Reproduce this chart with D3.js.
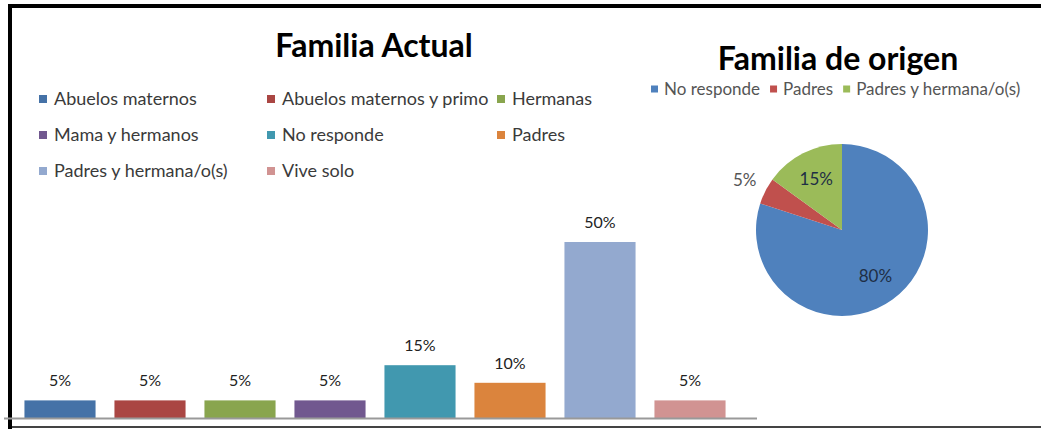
<!DOCTYPE html>
<html>
<head>
<meta charset="utf-8">
<script src="https://cdn.jsdelivr.net/npm/d3@7"></script>
<style>
  body { margin: 0; background: #fff; }
  svg { display: block; font-family: Lato, "Open Sans", sans-serif; }
</style>
</head>
<body>
<svg></svg>
<script>
const svgWidth = 1041;
const svgHeight = 429;

// Familia Actual (bar chart)
const barCategories = ["Abuelos maternos", "Abuelos maternos y primo", "Hermanas", "Mama y hermanos",
                       "No responde", "Padres", "Padres y hermana/o(s)", "Vive solo"];
const barValues = [0.05, 0.05, 0.05, 0.05, 0.15, 0.10, 0.50, 0.05];
const barColors = ["#4572A7", "#AA4643", "#89A54E", "#71588F", "#4198AF", "#DB843D", "#93A9CF", "#D19392"];

// Familia de origen (pie)
const pieCategories = ["No responde", "Padres", "Padres y hermana/o(s)"];
const pieValues = [0.80, 0.05, 0.15];
const pieColors = ["#4F81BD", "#C0504D", "#9BBB59"];

const pct = d3.format(".0%");

const svg = d3.select("svg")
        .attr("width", svgWidth)
        .attr("height", svgHeight);

// frame
svg.append("rect").attr("x", 8).attr("y", 4).attr("width", svgWidth - 8).attr("height", 4).attr("fill", "#000");
svg.append("rect").attr("x", 8).attr("y", 4).attr("width", 4).attr("height", svgHeight - 4).attr("fill", "#000");
svg.append("rect").attr("x", 12).attr("y", 426).attr("width", svgWidth - 12).attr("height", 2).attr("fill", "#444");

// ---------- bar chart ----------
const xScale = d3.scaleBand()
        .domain(barCategories)
        .range([15, 735])
        .paddingInner(0.21)
        .paddingOuter(0.105);
const yScale = d3.scaleLinear()
        .domain([0, 0.5])
        .range([418, 242]);

svg.append("text")
    .text("Familia Actual")
    .attr("x", 374)
    .attr("y", 57)
    .attr("font-size", "32px")
    .attr("font-weight", "bold")
    .attr("fill", "#000")
    .attr("text-anchor", "middle");

// legend, three columns
const legendCols = [39, 267, 497];
const legend = svg.append("g")
    .selectAll("g")
    .data(barCategories)
    .enter()
    .append("g")
    .attr("transform", (d, i) => `translate(${legendCols[i % 3]}, ${99 + Math.floor(i / 3) * 36})`);
legend.append("rect")
    .attr("x", 0).attr("y", -4)
    .attr("width", 8).attr("height", 8)
    .attr("fill", (d, i) => barColors[i]);
legend.append("text")
    .text(d => d)
    .attr("x", 15)
    .attr("dy", "0.35em")
    .attr("font-size", "18px")
    .attr("fill", "#3a3a3a");

svg.append("g")
    .selectAll("rect")
    .data(barValues)
    .enter()
    .append("rect")
    .attr("x", (d, i) => xScale(barCategories[i]))
    .attr("width", xScale.bandwidth())
    .attr("y", d => yScale(d))
    .attr("height", d => yScale(0) - yScale(d))
    .attr("fill", (d, i) => barColors[i]);

svg.append("g")
    .selectAll("text")
    .data(barValues)
    .enter()
    .append("text")
    .text(d => pct(d))
    .attr("x", (d, i) => xScale(barCategories[i]) + xScale.bandwidth() / 2)
    .attr("y", d => yScale(d) - 14)
    .attr("font-size", "16px")
    .attr("fill", "#222")
    .attr("text-anchor", "middle");

// category axis line
svg.append("line")
    .attr("x1", 4).attr("x2", 757)
    .attr("y1", yScale(0) + 0.5).attr("y2", yScale(0) + 0.5)
    .attr("stroke", "#999")
    .attr("stroke-width", 2);

// ---------- pie ----------
const cx = 842, cy = 230, radius = 86;

svg.append("text")
    .text("Familia de origen")
    .attr("x", 838)
    .attr("y", 70)
    .attr("font-size", "32px")
    .attr("font-weight", "bold")
    .attr("fill", "#000")
    .attr("text-anchor", "middle");

// legend in one row
const pieLegend = svg.append("g").attr("transform", "translate(651, 89)");
let lx = 0;
pieCategories.forEach((c, i) => {
    const g = pieLegend.append("g").attr("transform", `translate(${lx}, 0)`);
    g.append("rect").attr("x", 0).attr("y", -3.5).attr("width", 7).attr("height", 7).attr("fill", pieColors[i]);
    const t = g.append("text")
        .text(c)
        .attr("x", 13)
        .attr("dy", "0.35em")
        .attr("font-size", "17px")
        .attr("fill", "#555");
    lx += 13 + t.node().getComputedTextLength() + 10;
});

const pie = d3.pie().sort(null).value(d => d);
const arc = d3.arc().innerRadius(0).outerRadius(radius);
const inLabel = d3.arc().innerRadius(radius * 0.66).outerRadius(radius * 0.66);
const outLabel = d3.arc().innerRadius(radius * 1.27).outerRadius(radius * 1.27);

const pieG = svg.append("g").attr("transform", `translate(${cx}, ${cy})`);
const slices = pie(pieValues);
pieG.selectAll("path")
    .data(slices)
    .enter()
    .append("path")
    .attr("d", arc)
    .attr("fill", (d, i) => pieColors[i]);

pieG.selectAll("text")
    .data(slices)
    .enter()
    .append("text")
    .text(d => pct(d.data))
    .attr("transform", d => `translate(${(d.data < 0.1 ? outLabel : inLabel).centroid(d)})`)
    .attr("dy", "0.35em")
    .attr("font-size", "17px")
    .attr("fill", d => d.data < 0.1 ? "#555" : "#1e2e45")
    .attr("text-anchor", "middle");
</script>
</body>
</html>
